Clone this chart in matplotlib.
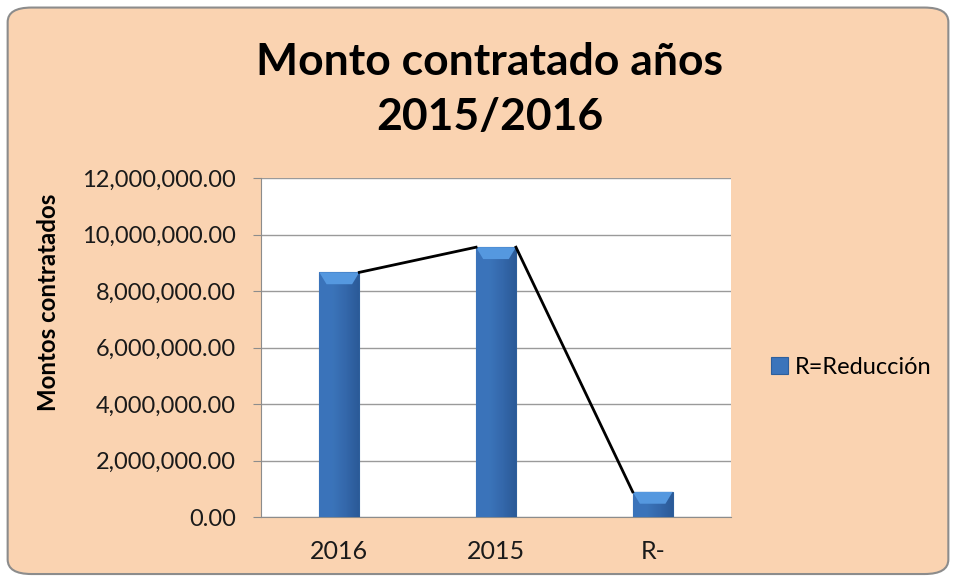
import numpy as np
import matplotlib.pyplot as plt
from matplotlib.patches import FancyBboxPatch
from matplotlib.colors import LinearSegmentedColormap
from matplotlib.ticker import FuncFormatter, MultipleLocator

# data
categories = ["2016", "2015", "R-"]
montos = [8660000, 9550000, 890000]
serie = "R=Reducción"

plt.rcParams['font.family'] = ['Lato', 'DejaVu Sans']

fig = plt.figure(figsize=(9.56, 5.81), dpi=100)
fig.patch.set_facecolor('white')

# rounded peach background
bg = FancyBboxPatch((0.008, 0.012), 0.984, 0.975,
                    boxstyle="round,pad=0,rounding_size=0.025",
                    transform=fig.transFigure, facecolor='#FAD3B1',
                    edgecolor='#8c8c8c', linewidth=1.5, zorder=-10)
fig.patches.append(bg)

ax = fig.add_axes([261/956, 1 - 517/581, 470/956, 339/581])
ax.set_facecolor('white')

x = np.arange(len(categories))
w = 0.255
bars = ax.bar(x, montos, width=w, color='#3b74bb', edgecolor='#2d5f9c',
              linewidth=0.8, zorder=3, label=serie)

# horizontal shading across each bar
cm = LinearSegmentedColormap.from_list('c', ['#3a73bb', '#3b74ba', '#3468ab', '#2b5a98'])
grad = np.linspace(0, 1, 64).reshape(1, -1)
for b in bars:
    x0, y0 = b.get_x(), b.get_y()
    bw, bh = b.get_width(), b.get_height()
    im = ax.imshow(grad, cmap=cm, extent=[x0, x0 + bw, y0, y0 + bh],
                   aspect='auto', zorder=3.5, interpolation='bicubic')
    im.set_clip_path(b)
    # top bevel
    bev = min(bh * 0.8, 420000)
    ax.fill([x0, x0 + bw, x0 + bw * 0.82, x0 + bw * 0.18],
            [y0 + bh, y0 + bh, y0 + bh - bev, y0 + bh - bev],
            color='#5598df', zorder=4, lw=0)

# series lines between bar tops
for i in range(len(montos) - 1):
    ax.plot([x[i] + w / 2, x[i + 1] - w / 2], [montos[i], montos[i + 1]],
            color='black', lw=2, zorder=5)

ax.set_xlim(-0.5, len(categories) - 0.5)
ax.set_ylim(0, 12000000)
ax.yaxis.set_major_locator(MultipleLocator(2000000))
ax.yaxis.set_major_formatter(FuncFormatter(lambda v, p: f"{v:,.2f}"))
ax.set_xticks(x)
ax.set_xticklabels(categories)
ax.tick_params(axis='x', length=0, pad=16.5, labelsize=18, colors='#1a1a1a')
ax.tick_params(axis='y', length=6, direction='out', color='#8c8c8c',
               labelsize=17, pad=12, labelcolor='#1a1a1a')
ax.grid(axis='y', color='#9a9a9a', lw=1, zorder=0)
ax.set_axisbelow(True)
for s in ['top', 'right']:
    ax.spines[s].set_visible(False)
for s in ['left', 'bottom']:
    ax.spines[s].set_color('#8c8c8c')

ax.set_ylabel("Montos contratados", fontsize=17.3, fontweight='bold')
ax.yaxis.set_label_coords(-201/470, (517 - 302) / 339)

fig.text(0.512, 1 - 75/581, "Monto contratado años", ha='center', va='baseline',
         fontsize=32, fontweight='bold')
fig.text(0.512, 1 - 130/581, "2015/2016", ha='center', va='baseline',
         fontsize=32, fontweight='bold')

leg = fig.legend(handles=[bars], labels=[serie], loc='center left',
                 bbox_to_anchor=(750/956, 1 - 367/581), frameon=False,
                 fontsize=17, handlelength=0.7, handleheight=0.7, handletextpad=0.3)

fig.savefig('out.png', dpi=100, facecolor=fig.get_facecolor())
